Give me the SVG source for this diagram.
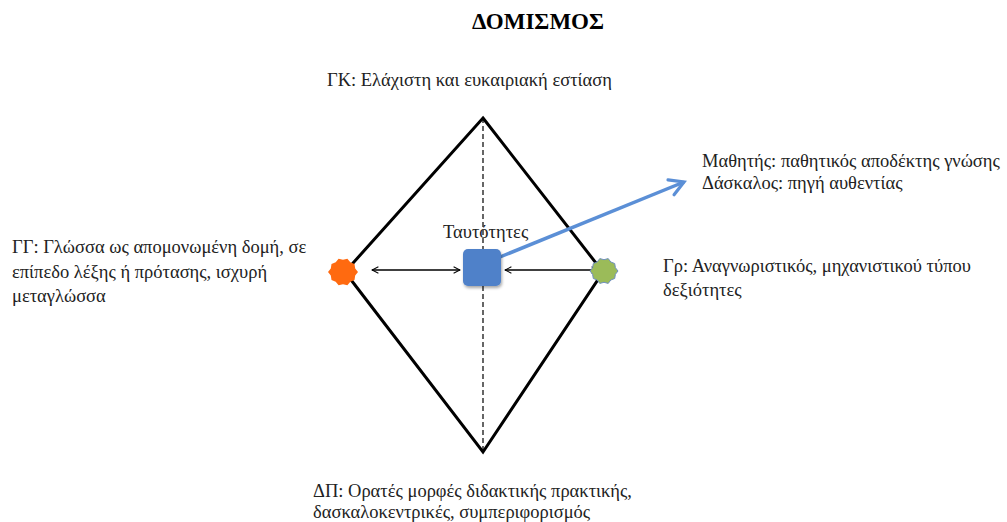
<svg xmlns="http://www.w3.org/2000/svg" width="1007" height="522" viewBox="0 0 1007 522">
  <defs>
    <marker id="headBlack" viewBox="0 0 10 10" refX="9" refY="5" markerWidth="8" markerHeight="8" markerUnits="userSpaceOnUse" orient="auto-start-reverse">
      <path d="M1,1 L9,5 L1,9" fill="none" stroke="#000" stroke-width="1.3"/>
    </marker>
    <marker id="headBlue" viewBox="0 0 10 10" refX="8" refY="5" markerWidth="20" markerHeight="20" markerUnits="userSpaceOnUse" orient="auto">
      <path d="M1,1 L8,5 L1,9" fill="none" stroke="#5b8fd6" stroke-width="1.6" stroke-linecap="round"/>
    </marker>
    <filter id="shadow" x="-30%" y="-30%" width="160%" height="160%">
      <feDropShadow dx="1" dy="2" stdDeviation="1.5" flood-color="#000" flood-opacity="0.35"/>
    </filter>
  </defs>
  <style>
    .t { font-family: "Liberation Serif", "Times New Roman", serif; font-size: 18.5px; fill: #222; }
    .title { font-family: "Liberation Serif", "Times New Roman", serif; font-size: 23px; font-weight: bold; fill: #000; }
    .edge { stroke: #000; stroke-width: 3; fill: none; }
    .axis { stroke: #000; stroke-width: 1.2; stroke-dasharray: 5 3; fill: none; }
    .conn { stroke: #000; stroke-width: 1.3; fill: none; }
  </style>
  <rect width="1007" height="522" fill="#fff"/>

  <text class="title" x="538" y="29" text-anchor="middle">ΔΟΜΙΣΜΟΣ</text>

  <!-- rhombus frame with its dashed vertical axis -->
  <g id="frame">
    <path class="edge" d="M483,118 L603,272 L483,452 L345,272 Z"/>
    <line class="axis" x1="483" y1="118" x2="483" y2="452"/>
  </g>

  <g id="connectors">
    <line class="conn" x1="372" y1="270" x2="460" y2="270" marker-start="url(#headBlack)" marker-end="url(#headBlack)"/>
    <line class="conn" x1="505" y1="270" x2="598" y2="270" marker-start="url(#headBlack)" marker-end="url(#headBlack)"/>
    <line x1="500" y1="257" x2="684" y2="182" stroke="#5b8fd6" stroke-width="3.5" marker-end="url(#headBlue)"/>
  </g>

  <g id="node-identities">
    <rect x="463" y="249" width="38" height="37" rx="5" fill="#4f81c9" filter="url(#shadow)"/>
    <text class="t" x="443" y="238">Ταυτότητες</text>
  </g>

  <g id="node-gg">
    <polygon fill="#ff6a10" points="355.0,272.0 352.2,275.6 351.5,280.1 347.3,281.7 344.4,285.3 340.0,284.2 335.6,285.3 332.7,281.7 328.5,280.1 327.8,275.6 325.0,272.0 327.8,268.4 328.5,263.9 332.7,262.3 335.6,258.7 340.0,259.8 344.4,258.7 347.3,262.3 351.5,263.9 352.2,268.4" transform="translate(3,0)"/>
    <text class="t" x="12" y="253">ΓΓ: Γλώσσα ως απομονωμένη δομή, σε</text>
    <text class="t" x="12" y="278">επίπεδο λέξης ή πρότασης, ισχυρή</text>
    <text class="t" x="12" y="302">μεταγλώσσα</text>
  </g>

  <g id="node-gr">
    <polygon fill="#9bbb59" stroke="#6f8fc0" stroke-width="1" points="615.0,271.0 612.4,274.3 611.7,278.5 607.8,280.0 605.2,283.4 601.0,282.3 596.8,283.4 594.2,280.0 590.3,278.5 589.6,274.3 587.0,271.0 589.6,267.7 590.3,263.5 594.2,262.0 596.8,258.6 601.0,259.7 605.2,258.6 607.8,262.0 611.7,263.5 612.4,267.7" transform="translate(3,0)"/>
    <text class="t" x="663" y="272">Γρ: Αναγνωριστικός, μηχανιστικού τύπου</text>
    <text class="t" x="663" y="296">δεξιότητες</text>
  </g>

  <g id="node-gk">
    <text class="t" x="327" y="86">ΓΚ: Ελάχιστη και ευκαιριακή εστίαση</text>
  </g>

  <g id="node-dp">
    <text class="t" x="313" y="497">ΔΠ: Ορατές μορφές διδακτικής πρακτικής,</text>
    <text class="t" x="313" y="518">δασκαλοκεντρικές, συμπεριφορισμός</text>
  </g>

  <g id="node-roles">
    <text class="t" x="702" y="167">Μαθητής: παθητικός αποδέκτης γνώσης</text>
    <text class="t" x="702" y="189">Δάσκαλος: πηγή αυθεντίας</text>
  </g>
</svg>
